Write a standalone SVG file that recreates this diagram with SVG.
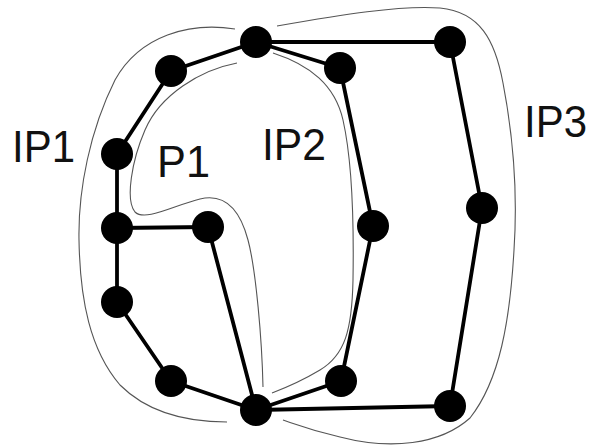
<svg xmlns="http://www.w3.org/2000/svg" width="590" height="448" viewBox="0 0 590 448">
<style>
.edge{stroke:#000;stroke-width:3.8;fill:none;stroke-linecap:round}
.region{stroke:#555;stroke-width:1.1;fill:none}
.node{fill:#000}
.lbl{font-family:"Liberation Sans",Arial,sans-serif;font-size:45px;fill:#111}
</style>
<rect width="590" height="448" fill="#fff"/>
<g id="regions">
<path class="region" d="M235,29 C190,22 140,35 115,80 C90,130 78,190 79,240 C80,300 90,350 120,385 C150,415 190,422 227,422"/>
<path class="region" d="M237,63 C200,70 160,95 145,130 C132,160 125,200 135,212 C145,222 175,205 200,199 C225,193 240,210 248,240 C256,270 262,340 263,387"/>
<path class="region" d="M277,26 C340,15 400,5 440,8 C480,12 495,40 503,83 C512,130 518,190 514,250 C510,320 500,380 470,418 C440,445 390,450 340,437 C310,430 295,424 283,420"/>
<path class="region" d="M273,53 C310,65 335,85 343,120 C352,160 354,220 353,280 C352,330 345,355 320,370 C300,382 285,388 272,393"/>
</g>
<g id="connectors">
<line class="edge" x1="256" y1="42" x2="171" y2="71"/>
<line class="edge" x1="171" y1="71" x2="117" y2="154"/>
<line class="edge" x1="117" y1="154" x2="117" y2="228"/>
<line class="edge" x1="117" y1="228" x2="208" y2="227"/>
<line class="edge" x1="208" y1="227" x2="256" y2="410"/>
<line class="edge" x1="117" y1="228" x2="117" y2="302"/>
<line class="edge" x1="117" y1="302" x2="171" y2="381"/>
<line class="edge" x1="171" y1="381" x2="256" y2="410"/>
<line class="edge" x1="256" y1="42" x2="340" y2="68"/>
<line class="edge" x1="340" y1="68" x2="373" y2="226"/>
<line class="edge" x1="373" y1="226" x2="341" y2="381"/>
<line class="edge" x1="341" y1="381" x2="256" y2="410"/>
<line class="edge" x1="256" y1="42" x2="450" y2="42"/>
<line class="edge" x1="450" y1="42" x2="482" y2="208"/>
<line class="edge" x1="482" y1="208" x2="450" y2="406"/>
<line class="edge" x1="450" y1="406" x2="256" y2="410"/>
</g>
<g id="nA"><circle class="node" cx="256" cy="42" r="16"/></g>
<g id="nB"><circle class="node" cx="171" cy="71" r="16"/></g>
<g id="nC"><circle class="node" cx="117" cy="154" r="16"/></g>
<g id="nD"><circle class="node" cx="117" cy="228" r="16"/></g>
<g id="nE"><circle class="node" cx="208" cy="227" r="16"/></g>
<g id="nF"><circle class="node" cx="117" cy="302" r="16"/></g>
<g id="nG"><circle class="node" cx="171" cy="381" r="16"/></g>
<g id="nH"><circle class="node" cx="256" cy="410" r="16"/></g>
<g id="nI"><circle class="node" cx="340" cy="68" r="16"/></g>
<g id="nJ"><circle class="node" cx="450" cy="42" r="16"/></g>
<g id="nK"><circle class="node" cx="373" cy="226" r="16"/></g>
<g id="nL"><circle class="node" cx="482" cy="208" r="16"/></g>
<g id="nM"><circle class="node" cx="341" cy="381" r="16"/></g>
<g id="nN"><circle class="node" cx="450" cy="406" r="16"/></g>
<g id="labels">
<text class="lbl" x="12" y="162" textLength="63" lengthAdjust="spacingAndGlyphs">IP1</text>
<text class="lbl" x="157" y="177" textLength="53" lengthAdjust="spacingAndGlyphs">P1</text>
<text class="lbl" x="262" y="160" textLength="64" lengthAdjust="spacingAndGlyphs">IP2</text>
<text class="lbl" x="524" y="137" textLength="63" lengthAdjust="spacingAndGlyphs">IP3</text>
</g>
</svg>
